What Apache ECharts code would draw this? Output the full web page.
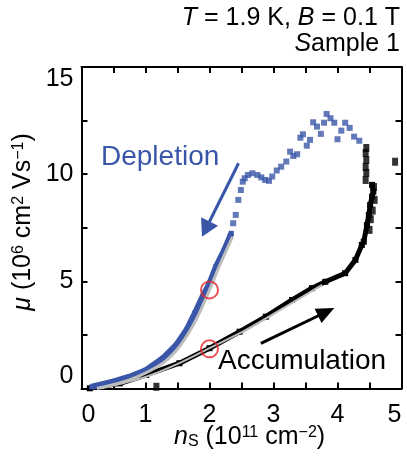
<!DOCTYPE html>
<html><head><meta charset="utf-8">
<script src="https://cdn.jsdelivr.net/npm/echarts@6/dist/echarts.min.js"></script>
<style>html,body{margin:0;padding:0;background:#fff}#c{width:407px;height:460px}</style>
</head><body><div id="c"></div>
<script>
// ---- data ----
const accumBandX = [0.13,0.6,1.01,1.53,2.0,2.47,2.88,3.29,3.6,3.81,4.12,4.28,4.38,4.41,4.46,4.49,4.51,4.54,4.56,4.54];
const accumBandY = [0.01,0.24,0.63,1.18,1.88,2.65,3.35,4.13,4.68,4.98,5.38,6.0,6.7,6.85,7.63,8.1,8.56,8.95,9.18,9.5];
const accumPtsX = [4.44,4.45,4.44,4.45,4.44,4.45,4.9,1.17,4.50,4.55,4.58,4.57,4.52];
const accumPtsY = [9.73,10.06,10.34,10.66,10.99,11.22,10.58,0.08,7.4,8.3,8.8,9.4,7.9];
const deplBandX = [0.16,0.49,0.75,1.01,1.27,1.48,1.64,1.77,1.89,2.0,2.10,2.23,2.34];
const deplBandY = [0.08,0.32,0.55,0.86,1.41,2.03,2.73,3.51,4.28,4.91,5.68,6.46,7.24];
const deplPtsX = [2.37,2.41,2.45,2.49,2.52,2.55,2.60,2.67,2.75,2.81,2.87,2.93,2.98,3.05,3.12,3.20,3.26,3.31,3.37,3.42,3.46,3.52,3.57,3.62,3.68,3.74,3.79,3.83,3.89,3.95,4.00,4.06,4.12,4.19,4.26,4.34];
const deplPtsY = [7.71,8.10,8.80,9.26,9.65,9.81,9.96,10.04,9.96,9.85,9.73,9.69,9.89,10.17,10.35,10.59,11.05,10.85,10.93,11.70,11.86,11.33,11.60,12.42,12.22,11.88,12.40,12.81,12.61,12.40,11.63,12.03,12.40,12.16,11.75,11.56];
const fitDeplX = [0.24,0.75,1.27,1.53,1.79,2.0,2.15,2.36];
const fitDeplY = [0.0,0.40,1.18,1.95,3.2,4.6,5.68,7.08];
const fitAccumX = [0.29,1.01,1.53,2.0,2.57,3.76];
const fitAccumY = [0.0,0.55,1.18,1.88,2.73,4.83];
const circleX = [2.0,2.0];
const circleY = [4.6,1.85];
const deplArrow = [[2.454,10.51],[1.942,7.44]];
const accumArrow = [[2.803,2.11],[3.823,3.57]];
const xTickLabels = ['0','1','2','3','4','5'];
const yTickLabels = ['0','5','10','15'];

const zip = (a,b) => a.map((v,i) => [v,b[i]]);
const FF = '"Liberation Sans", Arial, Helvetica, sans-serif';
const BLUE = '#3a56a8';
const GRAY = '#bdbdbd';
const RED = '#e3262b';

const chart = echarts.init(document.getElementById('c'), null, {renderer:'canvas'});

function axisBase(extra){
  return Object.assign({
    type:'value',
    axisLine:{show:true, onZero:false, lineStyle:{color:'#000', width:2}},
    axisTick:{show:true, inside:true, length:6, lineStyle:{color:'#000', width:2}},
    minorTick:{show:true, splitNumber:2, length:6, lineStyle:{color:'#000', width:2}},
    splitLine:{show:false}, minorSplitLine:{show:false}
  }, extra);
}

const option = {
  animation:false,
  backgroundColor:'#fff',
  grid:{left:81.5, right:5.5, top:67, bottom:71.5},
  xAxis:[
    axisBase({min:0, max:5, interval:1, position:'bottom',
      axisLabel:{show:true, color:'#000', fontSize:25, fontFamily:FF, margin:14,
        alignMinLabel:'left', alignMaxLabel:'right',
        formatter:(v)=> xTickLabels[Math.round(v)]}}),
    axisBase({min:0, max:5, interval:1, position:'top', axisLabel:{show:false}})
  ],
  yAxis:[
    axisBase({min:0, max:15, interval:5, position:'left',
      axisLabel:{show:true, color:'#000', fontSize:25, fontFamily:FF, margin:8,
        verticalAlignMinLabel:'bottom', verticalAlignMaxLabel:'top',
        formatter:(v)=> yTickLabels[Math.round(v/5)]}}),
    axisBase({min:0, max:15, interval:5, position:'right', axisLabel:{show:false}})
  ],
  series:[
    {type:'line', data:zip(accumBandX,accumBandY), symbol:'rect', symbolSize:6,
      lineStyle:{color:'#000', width:5}, itemStyle:{color:'#000'}, z:2,
      markLine:{silent:true, symbol:['none','triangle'], symbolSize:[16,18],
        label:{show:false}, lineStyle:{color:'#000', width:3, type:'solid'},
        data:[[{coord:accumArrow[0]},{coord:accumArrow[1]}]]}},
    {type:'scatter', data:zip(accumPtsX,accumPtsY), symbol:'rect', symbolSize:[6,8],
      itemStyle:{color:'#000'}, z:2},
    {type:'line', data:zip(deplBandX,deplBandY), symbol:'rect', symbolSize:5,
      lineStyle:{color:BLUE, width:6}, itemStyle:{color:BLUE}, z:3,
      markLine:{silent:true, symbol:['none','triangle'], symbolSize:[19,17],
        label:{show:false}, lineStyle:{color:BLUE, width:3, type:'solid'},
        data:[[{coord:deplArrow[0]},{coord:deplArrow[1]}]]}},
    {type:'scatter', data:zip(deplPtsX,deplPtsY), symbol:'rect', symbolSize:6,
      itemStyle:{color:BLUE}, z:3},
    {type:'line', data:zip(fitDeplX,fitDeplY), smooth:0.3, symbol:'none',
      lineStyle:{color:GRAY, width:3}, z:5},
    {type:'line', data:zip(fitAccumX,fitAccumY), smooth:0.3, symbol:'none',
      lineStyle:{color:GRAY, width:2}, z:5},
    {type:'scatter', data:zip(circleX,circleY), symbol:'circle', symbolSize:17,
      itemStyle:{color:'rgba(0,0,0,0)', borderColor:RED, borderWidth:2}, z:10}
  ],
  graphic:[
    {type:'text', right:7, top:6, style:{text:'{i|T} = 1.9 K, {i|B} = 0.1 T', fontSize:25, fontFamily:FF, fill:'#000',
      rich:{i:{fontStyle:'italic', fontSize:25, fontFamily:FF}}}},
    {type:'text', right:7, top:32, style:{text:'{i|S}ample 1', fontSize:25, fontFamily:FF, fill:'#000',
      rich:{i:{fontStyle:'italic', fontSize:25, fontFamily:FF}}}},
    {type:'text', x:101, y:157, style:{text:'Depletion', fontSize:28, fontFamily:FF, fill:BLUE, align:'left', verticalAlign:'middle'}},
    {type:'text', x:218, y:361, style:{text:'Accumulation', fontSize:28, fontFamily:FF, fill:'#000', align:'left', verticalAlign:'middle'}},
    {type:'text', x:174, y:437, style:{text:'{i|n}{sub|S} (10{sup|11} cm{sup|−2})', fontSize:25, fontFamily:FF, fill:'#000', align:'left', verticalAlign:'middle',
      rich:{i:{fontStyle:'italic', fontSize:25, fontFamily:FF}, sub:{fontSize:16, fontFamily:FF, verticalAlign:'bottom'}, sup:{fontSize:16, fontFamily:FF, verticalAlign:'top'}}}},
    {type:'text', x:23, y:222, rotation:Math.PI/2, style:{text:'{i|μ} (10{sup|6} cm{sup|2} Vs{sup|−1})', fontSize:25, fontFamily:FF, fill:'#000', align:'center', verticalAlign:'middle',
      rich:{i:{fontStyle:'italic', fontSize:25, fontFamily:FF}, sup:{fontSize:16, fontFamily:FF, verticalAlign:'top'}}}}
  ]
};
chart.setOption(option);
</script>
</body></html>
